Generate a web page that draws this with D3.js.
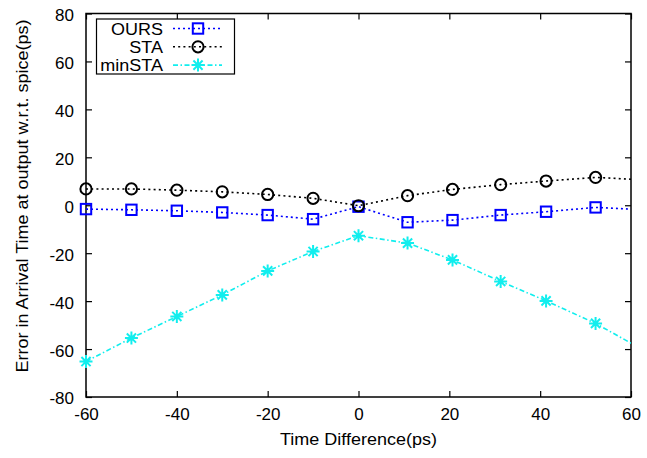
<!DOCTYPE html>
<html>
<head>
<meta charset="utf-8">
<script src="https://cdn.jsdelivr.net/npm/d3@7/dist/d3.min.js"></script>
<style>
  html, body { margin: 0; padding: 0; background: #fff; }
  svg { display: block; font-family: "Liberation Sans", Arial, Helvetica, sans-serif; }
</style>
</head>
<body>
<svg id="chart" width="647" height="458"></svg>
<script>
// Sweep points (ps); the last point lies past the x range and is clipped.
const timeDiff = [-60, -50, -40, -30, -20, -10, 0, 10.8, 20.7, 31.3, 41.3, 52.2, 63];
const ours   = [-1.6, -1.9, -2.3, -3.0, -4.1, -5.8, -0.6, -7.1, -6.2, -4.1, -2.7, -0.9, -1.9];
const sta    = [6.8, 6.8, 6.3, 5.6, 4.5, 2.9, -0.2, 4.0, 6.6, 8.6, 10.1, 11.6, 10.6];
const minSta = [-65.2, -55.4, -46.4, -37.4, -27.4, -19.3, -12.7, -15.8, -22.8, -31.8, -39.9, -49.3, -60.7];

const seriesNames = ["OURS", "STA", "minSTA"];
const xTicks = [-60, -40, -20, 0, 20, 40, 60];
const yTicks = [-80, -60, -40, -20, 0, 20, 40, 60, 80];

const xTitle = "Time Difference(ps)";
const yTitle = "Error in Arrival Time at output w.r.t. spice(ps)";

const svg = d3.select("#chart");
const plotL = 86, plotR = 631, plotT = 13.5, plotB = 397;
const fontSize = 17, stretch = 1.06;

const x = d3.scaleLinear().domain([-60, 60]).range([plotL, plotR]);
const y = d3.scaleLinear().domain([-80, 80]).range([plotB, plotT]);

const styles = {
  "OURS":   { color: "#0000ff", dash: "2,3", marker: "square", values: ours },
  "STA":    { color: "#000000", dash: "2,3.2", marker: "circle", values: sta },
  "minSTA": { color: "#11eeee", dash: "5,2.5,1.5,2.5", marker: "star", values: minSta }
};

svg.append("defs").append("clipPath").attr("id", "plot-clip")
  .append("rect").attr("x", plotL).attr("y", plotT)
  .attr("width", plotR - plotL).attr("height", plotB - plotT);

// Axes: bottom/left labelled, top/right mirrored ticks only, all ticks inward.
const tickLen = 6;
const plain = d => String(d);   // ASCII hyphen for negatives
const gx = svg.append("g").attr("transform", `translate(0,${plotB})`)
  .call(d3.axisBottom(x).tickValues(xTicks).tickFormat(plain)
    .tickSizeInner(-tickLen).tickSizeOuter(0).tickPadding(11));
const gxTop = svg.append("g").attr("transform", `translate(0,${plotT})`)
  .call(d3.axisTop(x).tickValues(xTicks).tickSizeInner(-tickLen).tickSizeOuter(0).tickFormat(""));
const gy = svg.append("g").attr("transform", `translate(${plotL},0)`)
  .call(d3.axisLeft(y).tickValues(yTicks).tickFormat(plain)
    .tickSizeInner(-tickLen).tickSizeOuter(0).tickPadding(12));
const gyRight = svg.append("g").attr("transform", `translate(${plotR},0)`)
  .call(d3.axisRight(y).tickValues(yTicks).tickSizeInner(-tickLen).tickSizeOuter(0).tickFormat(""));

[gx, gxTop, gy, gyRight].forEach(g => {
  g.select(".domain").remove();
  g.selectAll(".tick line").attr("stroke", "#000").attr("stroke-width", 1.2);
  g.selectAll(".tick text").attr("fill", "#000").attr("font-size", fontSize)
    .attr("font-family", "Liberation Sans, Arial, sans-serif");
});
gy.selectAll(".tick text").attr("dy", "0.41em");

// Frame
svg.append("rect").attr("x", plotL).attr("y", plotT)
  .attr("width", plotR - plotL).attr("height", plotB - plotT)
  .attr("fill", "none").attr("stroke", "#000").attr("stroke-width", 1.5);

// Axis titles (slightly widened glyphs)
svg.append("text").attr("transform", `translate(${x(0)},445) scale(${stretch},1)`)
  .attr("text-anchor", "middle").attr("font-size", fontSize).text(xTitle);
svg.append("text").attr("transform", `translate(28,196) rotate(-90) scale(${stretch},1)`)
  .attr("text-anchor", "middle").attr("font-size", fontSize).text(yTitle);

function drawMarker(g, kind, cx, cy, color) {
  if (kind === "square") {
    g.append("rect").attr("x", cx - 5.2).attr("y", cy - 5.2).attr("width", 10.4).attr("height", 10.4)
      .attr("fill", "none").attr("stroke", color).attr("stroke-width", 2);
  } else if (kind === "circle") {
    g.append("circle").attr("cx", cx).attr("cy", cy).attr("r", 5.6)
      .attr("fill", "none").attr("stroke", color).attr("stroke-width", 2);
  } else {
    const r = 6.5, d = r * Math.SQRT1_2;
    const p = `M${cx - r},${cy}H${cx + r}M${cx},${cy - r}V${cy + r}` +
              `M${cx - d},${cy - d}L${cx + d},${cy + d}M${cx - d},${cy + d}L${cx + d},${cy - d}`;
    g.append("path").attr("d", p).attr("stroke", color).attr("stroke-width", 2).attr("fill", "none");
  }
}

const line = d3.line().x(d => x(d[0])).y(d => y(d[1]));

seriesNames.forEach(name => {
  const s = styles[name];
  const pts = timeDiff.map((t, i) => [t, s.values[i]]);
  svg.append("path").datum(pts)
    .attr("clip-path", "url(#plot-clip)")
    .attr("d", line)
    .attr("fill", "none").attr("stroke", s.color)
    .attr("stroke-width", 1.6).attr("stroke-dasharray", s.dash);
  const gm = svg.append("g");
  pts.filter(p => p[0] >= -60 && p[0] <= 60)
     .forEach(p => drawMarker(gm, s.marker, x(p[0]), y(p[1]), s.color));
});

// Legend
const lg = svg.append("g");
lg.append("rect").attr("x", 96.5).attr("y", 19).attr("width", 138).attr("height", 55)
  .attr("fill", "#fff").attr("stroke", "#000").attr("stroke-width", 1.2);
seriesNames.forEach((name, i) => {
  const s = styles[name];
  const ry = 28.5 + i * 18.3;
  lg.append("text").attr("transform", `translate(163,${ry}) scale(${stretch},1)`)
    .attr("dy", "0.36em").attr("text-anchor", "end").attr("font-size", fontSize).text(name);
  lg.append("line").attr("x1", 173).attr("x2", 222).attr("y1", ry).attr("y2", ry)
    .attr("stroke", s.color).attr("stroke-width", 1.6).attr("stroke-dasharray", s.dash);
  drawMarker(lg, s.marker, 198, ry, s.color);
});
</script>
</body>
</html>
